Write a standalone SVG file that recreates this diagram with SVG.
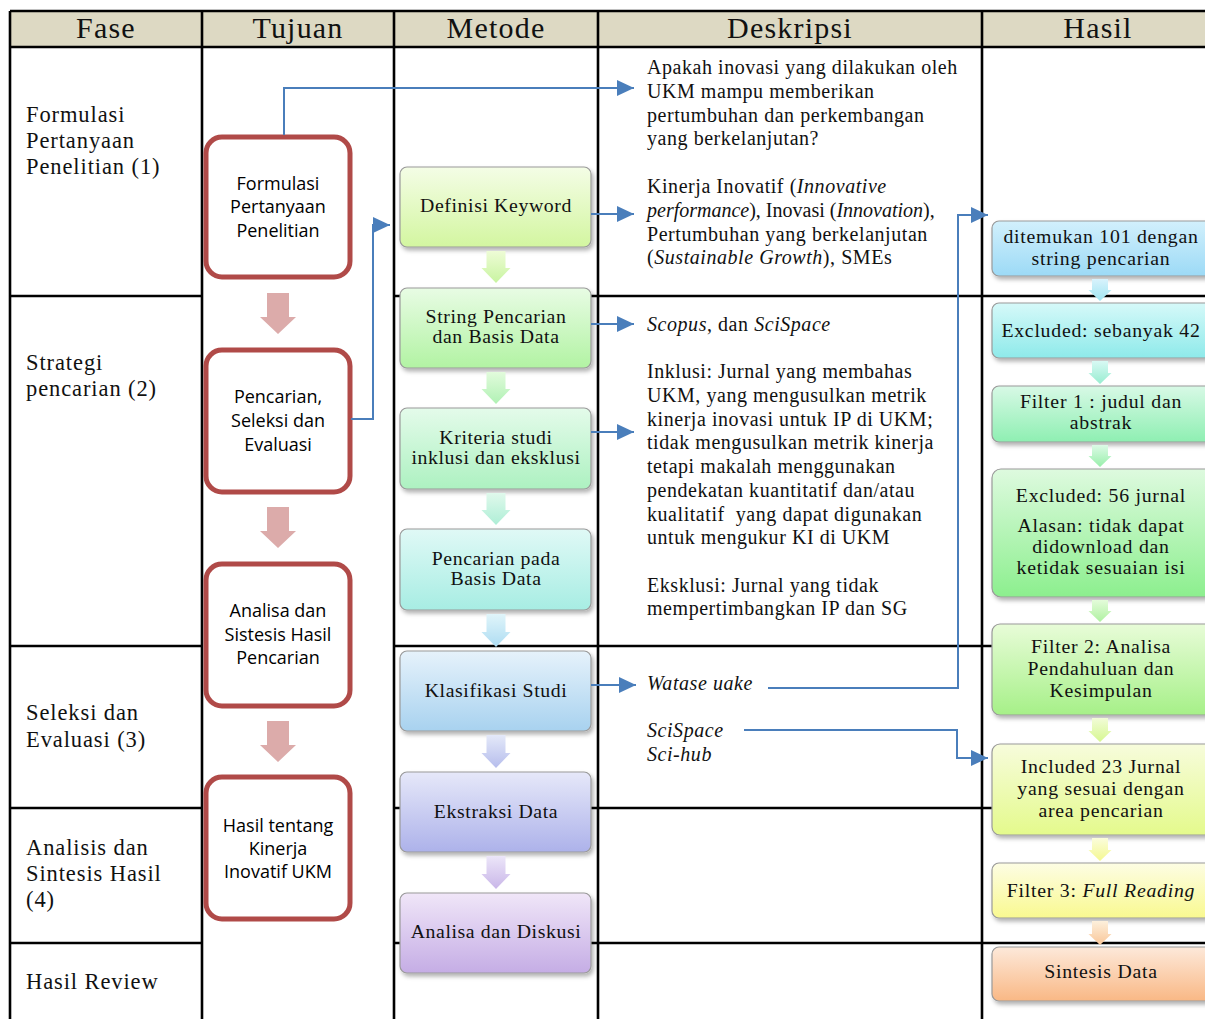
<svg xmlns="http://www.w3.org/2000/svg" width="1205" height="1019" viewBox="0 0 1205 1019">
<style>
.grid{stroke:#000;stroke-width:2.6;fill:none}
.hdr{font-family:"Liberation Serif",serif;font-size:30px;letter-spacing:1.2px;fill:#111;text-anchor:middle}
.fase{font-family:"Liberation Serif",serif;font-size:22.5px;letter-spacing:0.9px;fill:#111}
.tuj{fill:#fff;stroke:#b04a48;stroke-width:5}
.tujt{font-family:"Open Sans","Liberation Sans",sans-serif;font-size:18px;fill:#000;text-anchor:middle}
.pink{fill:#dcabaa}
.mbox{stroke:#9a9a9a;stroke-width:1.2}
.mt{font-family:"Liberation Serif",serif;font-size:19.8px;letter-spacing:0.6px;fill:#111;text-anchor:middle}
.ht{font-family:"Liberation Serif",serif;font-size:19.8px;letter-spacing:0.75px;fill:#111;text-anchor:middle}
.desc{font-family:"Liberation Serif",serif;font-size:20px;letter-spacing:0.55px;fill:#111}
.conn{stroke:#4a7ebb;stroke-width:2;fill:none}
.it{font-style:italic}
</style>
<defs>
<marker id="ah" markerUnits="userSpaceOnUse" markerWidth="17" markerHeight="16" viewBox="0 0 17 16" refX="17" refY="8" orient="auto">
<path d="M0,0 L17,8 L0,16 Z" fill="#4a7ebb"/>
</marker>
<filter id="sh" x="-10%" y="-10%" width="130%" height="140%">
<feDropShadow dx="2" dy="3" stdDeviation="2" flood-color="#000" flood-opacity="0.3"/>
</filter>
<linearGradient id="g1" x1="0" y1="0" x2="0" y2="1"><stop offset="0" stop-color="#f4fde6"/><stop offset="1" stop-color="#d3f6a0"/></linearGradient>
<linearGradient id="g2" x1="0" y1="0" x2="0" y2="1"><stop offset="0" stop-color="#e8fce4"/><stop offset="1" stop-color="#b2f3a3"/></linearGradient>
<linearGradient id="g3" x1="0" y1="0" x2="0" y2="1"><stop offset="0" stop-color="#e4fbea"/><stop offset="1" stop-color="#adf1c1"/></linearGradient>
<linearGradient id="g4" x1="0" y1="0" x2="0" y2="1"><stop offset="0" stop-color="#e0f9f6"/><stop offset="1" stop-color="#a7ede3"/></linearGradient>
<linearGradient id="g5" x1="0" y1="0" x2="0" y2="1"><stop offset="0" stop-color="#e6f2fb"/><stop offset="1" stop-color="#a8d2ef"/></linearGradient>
<linearGradient id="g6" x1="0" y1="0" x2="0" y2="1"><stop offset="0" stop-color="#e6e8f9"/><stop offset="1" stop-color="#adb2ea"/></linearGradient>
<linearGradient id="g7" x1="0" y1="0" x2="0" y2="1"><stop offset="0" stop-color="#f0e6f8"/><stop offset="1" stop-color="#c5ade5"/></linearGradient>
<linearGradient id="h1" x1="0" y1="0" x2="0" y2="1"><stop offset="0" stop-color="#d2f0fc"/><stop offset="1" stop-color="#9cdaf6"/></linearGradient>
<linearGradient id="h2" x1="0" y1="0" x2="0" y2="1"><stop offset="0" stop-color="#d6f9f9"/><stop offset="1" stop-color="#8eeaea"/></linearGradient>
<linearGradient id="h3" x1="0" y1="0" x2="0" y2="1"><stop offset="0" stop-color="#d8f9e6"/><stop offset="1" stop-color="#8eefb2"/></linearGradient>
<linearGradient id="h4" x1="0" y1="0" x2="0" y2="1"><stop offset="0" stop-color="#defadf"/><stop offset="1" stop-color="#8cef8e"/></linearGradient>
<linearGradient id="h5" x1="0" y1="0" x2="0" y2="1"><stop offset="0" stop-color="#e8fcd8"/><stop offset="1" stop-color="#a6f088"/></linearGradient>
<linearGradient id="h6" x1="0" y1="0" x2="0" y2="1"><stop offset="0" stop-color="#f7fcdc"/><stop offset="1" stop-color="#e4fa8c"/></linearGradient>
<linearGradient id="h7" x1="0" y1="0" x2="0" y2="1"><stop offset="0" stop-color="#fdfde4"/><stop offset="1" stop-color="#f9f990"/></linearGradient>
<linearGradient id="h8" x1="0" y1="0" x2="0" y2="1"><stop offset="0" stop-color="#fde9da"/><stop offset="1" stop-color="#f9b885"/></linearGradient>
<linearGradient id="a1" x1="0" y1="0" x2="0" y2="1"><stop offset="0" stop-color="#eefcd6"/><stop offset="1" stop-color="#c8f4a0"/></linearGradient>
<linearGradient id="a2" x1="0" y1="0" x2="0" y2="1"><stop offset="0" stop-color="#e2fbdc"/><stop offset="1" stop-color="#b0f1b4"/></linearGradient>
<linearGradient id="a3" x1="0" y1="0" x2="0" y2="1"><stop offset="0" stop-color="#e0f9ec"/><stop offset="1" stop-color="#aeeed6"/></linearGradient>
<linearGradient id="a4" x1="0" y1="0" x2="0" y2="1"><stop offset="0" stop-color="#e0f5fa"/><stop offset="1" stop-color="#aedcf2"/></linearGradient>
<linearGradient id="a5" x1="0" y1="0" x2="0" y2="1"><stop offset="0" stop-color="#e4e9f9"/><stop offset="1" stop-color="#b6bdec"/></linearGradient>
<linearGradient id="a6" x1="0" y1="0" x2="0" y2="1"><stop offset="0" stop-color="#ece6f9"/><stop offset="1" stop-color="#c9b6e8"/></linearGradient>
<linearGradient id="b1" x1="0" y1="0" x2="0" y2="1"><stop offset="0" stop-color="#d8f2fc"/><stop offset="1" stop-color="#a0e6f2"/></linearGradient>
<linearGradient id="b2" x1="0" y1="0" x2="0" y2="1"><stop offset="0" stop-color="#d8f9f4"/><stop offset="1" stop-color="#98edd0"/></linearGradient>
<linearGradient id="b3" x1="0" y1="0" x2="0" y2="1"><stop offset="0" stop-color="#dcfae6"/><stop offset="1" stop-color="#98efaa"/></linearGradient>
<linearGradient id="b4" x1="0" y1="0" x2="0" y2="1"><stop offset="0" stop-color="#e4fcda"/><stop offset="1" stop-color="#aef1a0"/></linearGradient>
<linearGradient id="b5" x1="0" y1="0" x2="0" y2="1"><stop offset="0" stop-color="#f2fcd8"/><stop offset="1" stop-color="#d6f790"/></linearGradient>
<linearGradient id="b6" x1="0" y1="0" x2="0" y2="1"><stop offset="0" stop-color="#fbfddc"/><stop offset="1" stop-color="#f4f890"/></linearGradient>
<linearGradient id="b7" x1="0" y1="0" x2="0" y2="1"><stop offset="0" stop-color="#fdf0dc"/><stop offset="1" stop-color="#f9c698"/></linearGradient>
</defs>

<g id="table">
<rect x="10" y="11" width="1200" height="36" fill="#ddd9c3"/>
<path class="grid" d="M10,11 H1210 M10,47 H1210 M10,11 V1019 M202,11 V1019 M394,11 V1019 M598,11 V1019 M982,11 V1019
M10,296 H202 M394,296 H1210 M10,646 H202 M394,646 H1210 M10,808 H202 M394,808 H1210 M10,943 H202 M394,943 H1210"/>
<text class="hdr" x="106" y="38">Fase</text>
<text class="hdr" x="298" y="38">Tujuan</text>
<text class="hdr" x="496" y="38">Metode</text>
<text class="hdr" x="790" y="38">Deskripsi</text>
<text class="hdr" x="1098" y="38">Hasil</text>
</g>

<g id="fase">
<text class="fase" x="26" y="122">Formulasi</text>
<text class="fase" x="26" y="148">Pertanyaan</text>
<text class="fase" x="26" y="174">Penelitian (1)</text>
<text class="fase" x="26" y="370">Strategi</text>
<text class="fase" x="26" y="396">pencarian (2)</text>
<text class="fase" x="26" y="720">Seleksi dan</text>
<text class="fase" x="26" y="747">Evaluasi (3)</text>
<text class="fase" x="26" y="855">Analisis dan</text>
<text class="fase" x="26" y="881">Sintesis Hasil</text>
<text class="fase" x="26" y="907">(4)</text>
<text class="fase" x="26" y="989">Hasil Review</text>
</g>

<g id="tujuan-1">
<rect class="tuj" x="206" y="137" width="144" height="140" rx="16"/>
<text class="tujt" x="278" y="190">Formulasi</text>
<text class="tujt" x="278" y="213">Pertanyaan</text>
<text class="tujt" x="278" y="237">Penelitian</text>
</g>
<g id="tujuan-2">
<rect class="tuj" x="206" y="350" width="144" height="142" rx="16"/>
<text class="tujt" x="278" y="403">Pencarian,</text>
<text class="tujt" x="278" y="427">Seleksi dan</text>
<text class="tujt" x="278" y="451">Evaluasi</text>
</g>
<g id="tujuan-3">
<rect class="tuj" x="206" y="564" width="144" height="142" rx="16"/>
<text class="tujt" x="278" y="617">Analisa dan</text>
<text class="tujt" x="278" y="641">Sistesis Hasil</text>
<text class="tujt" x="278" y="664">Pencarian</text>
</g>
<g id="tujuan-4">
<rect class="tuj" x="206" y="777" width="144" height="142" rx="16"/>
<text class="tujt" x="278" y="832">Hasil tentang</text>
<text class="tujt" x="278" y="855">Kinerja</text>
<text class="tujt" x="278" y="878">Inovatif UKM</text>
</g>
<g id="tujuan-arrows">
<path class="pink" d="M267,293 H289 V317 H296 L278,334 L260,317 H267 Z"/>
<path class="pink" d="M267,507 H289 V531 H296 L278,548 L260,531 H267 Z"/>
<path class="pink" d="M267,721 H289 V745 H296 L278,762 L260,745 H267 Z"/>
</g>

<g id="metode">
<g id="m1" filter="url(#sh)"><rect class="mbox" x="400" y="167" width="191" height="80" rx="7" fill="url(#g1)"/></g>
<text class="mt" x="496" y="212">Definisi Keyword</text>
<g id="m2" filter="url(#sh)"><rect class="mbox" x="400" y="288" width="191" height="80" rx="7" fill="url(#g2)"/></g>
<text class="mt" x="496" y="323">String Pencarian</text>
<text class="mt" x="496" y="343">dan Basis Data</text>
<g id="m3" filter="url(#sh)"><rect class="mbox" x="400" y="408" width="191" height="81" rx="7" fill="url(#g3)"/></g>
<text class="mt" x="496" y="444">Kriteria studi</text>
<text class="mt" x="496" y="464">inklusi dan eksklusi</text>
<g id="m4" filter="url(#sh)"><rect class="mbox" x="400" y="529" width="191" height="81" rx="7" fill="url(#g4)"/></g>
<text class="mt" x="496" y="565">Pencarian pada</text>
<text class="mt" x="496" y="585">Basis Data</text>
<g id="m5" filter="url(#sh)"><rect class="mbox" x="400" y="651" width="191" height="80" rx="7" fill="url(#g5)"/></g>
<text class="mt" x="496" y="697">Klasifikasi Studi</text>
<g id="m6" filter="url(#sh)"><rect class="mbox" x="400" y="772" width="191" height="80" rx="7" fill="url(#g6)"/></g>
<text class="mt" x="496" y="818">Ekstraksi Data</text>
<g id="m7" filter="url(#sh)"><rect class="mbox" x="400" y="893" width="191" height="80" rx="7" fill="url(#g7)"/></g>
<text class="mt" x="496" y="938">Analisa dan Diskusi</text>
</g>
<g id="metode-arrows">
<path fill="url(#a1)" d="M486.5,251 H505.5 V268 H510.5 L496,283 L481.5,268 H486.5 Z"/>
<path fill="url(#a2)" d="M486.5,372 H505.5 V389 H510.5 L496,404 L481.5,389 H486.5 Z"/>
<path fill="url(#a3)" d="M486.5,493 H505.5 V510 H510.5 L496,525 L481.5,510 H486.5 Z"/>
<path fill="url(#a4)" d="M486.5,614 H505.5 V632 H510.5 L496,647 L481.5,632 H486.5 Z"/>
<path fill="url(#a5)" d="M486.5,735 H505.5 V753 H510.5 L496,768 L481.5,753 H486.5 Z"/>
<path fill="url(#a6)" d="M486.5,856 H505.5 V874 H510.5 L496,889 L481.5,874 H486.5 Z"/>
</g>

<g id="deskripsi">
<text class="desc" x="647" y="74">Apakah inovasi yang dilakukan oleh</text>
<text class="desc" x="647" y="98">UKM mampu memberikan</text>
<text class="desc" x="647" y="122">pertumbuhan dan perkembangan</text>
<text class="desc" x="647" y="145">yang berkelanjutan?</text>
<text class="desc" x="647" y="193">Kinerja Inovatif (<tspan class="it">Innovative</tspan></text>
<text class="desc" x="647" y="217" style="letter-spacing:0px"><tspan class="it">performance</tspan>), Inovasi (<tspan class="it">Innovation</tspan>),</text>
<text class="desc" x="647" y="241">Pertumbuhan yang berkelanjutan</text>
<text class="desc" x="647" y="264">(<tspan class="it">Sustainable Growth</tspan>), SMEs</text>
<text class="desc" x="647" y="331"><tspan class="it">Scopus</tspan>, dan <tspan class="it">SciSpace</tspan></text>
<text class="desc" x="647" y="378">Inklusi: Jurnal yang membahas</text>
<text class="desc" x="647" y="402">UKM, yang mengusulkan metrik</text>
<text class="desc" x="647" y="426">kinerja inovasi untuk IP di UKM;</text>
<text class="desc" x="647" y="449">tidak mengusulkan metrik kinerja</text>
<text class="desc" x="647" y="473">tetapi makalah menggunakan</text>
<text class="desc" x="647" y="497">pendekatan kuantitatif dan/atau</text>
<text class="desc" x="647" y="521" xml:space="preserve">kualitatif  yang dapat digunakan</text>
<text class="desc" x="647" y="544">untuk mengukur KI di UKM</text>
<text class="desc" x="647" y="592">Eksklusi: Jurnal yang tidak</text>
<text class="desc" x="647" y="615">mempertimbangkan IP dan SG</text>
<text class="desc it" x="647" y="690">Watase uake</text>
<text class="desc it" x="647" y="737">SciSpace</text>
<text class="desc it" x="647" y="761">Sci-hub</text>
</g>

<g id="hasil">
<g filter="url(#sh)"><rect class="mbox" x="992" y="221" width="222" height="55" rx="7" fill="url(#h1)"/></g>
<text class="ht" x="1101" y="243">ditemukan 101 dengan</text>
<text class="ht" x="1101" y="265">string pencarian</text>
<g filter="url(#sh)"><rect class="mbox" x="992" y="303" width="222" height="55" rx="7" fill="url(#h2)"/></g>
<text class="ht" x="1101" y="337">Excluded: sebanyak 42</text>
<g filter="url(#sh)"><rect class="mbox" x="992" y="386" width="222" height="56" rx="7" fill="url(#h3)"/></g>
<text class="ht" x="1101" y="408">Filter 1 : judul dan</text>
<text class="ht" x="1101" y="429">abstrak</text>
<g filter="url(#sh)"><rect class="mbox" x="992" y="469" width="222" height="128" rx="9" fill="url(#h4)"/></g>
<text class="ht" x="1101" y="502">Excluded: 56 jurnal</text>
<text class="ht" x="1101" y="532">Alasan: tidak dapat</text>
<text class="ht" x="1101" y="553">didownload dan</text>
<text class="ht" x="1101" y="574">ketidak sesuaian isi</text>
<g filter="url(#sh)"><rect class="mbox" x="992" y="624" width="222" height="91" rx="8" fill="url(#h5)"/></g>
<text class="ht" x="1101" y="653">Filter 2: Analisa</text>
<text class="ht" x="1101" y="675">Pendahuluan dan</text>
<text class="ht" x="1101" y="697">Kesimpulan</text>
<g filter="url(#sh)"><rect class="mbox" x="992" y="744" width="222" height="91" rx="8" fill="url(#h6)"/></g>
<text class="ht" x="1101" y="773">Included 23 Jurnal</text>
<text class="ht" x="1101" y="795">yang sesuai dengan</text>
<text class="ht" x="1101" y="817">area pencarian</text>
<g filter="url(#sh)"><rect class="mbox" x="992" y="863" width="222" height="55" rx="7" fill="url(#h7)"/></g>
<text class="ht" x="1101" y="897">Filter 3: <tspan class="it">Full Reading</tspan></text>
<g filter="url(#sh)"><rect class="mbox" x="992" y="947" width="222" height="54" rx="7" fill="url(#h8)"/></g>
<text class="ht" x="1101" y="978">Sintesis Data</text>
</g>
<g id="hasil-arrows">
<path fill="url(#b1)" d="M1092,279 H1108 V290 H1111.5 L1100,301 L1088.5,290 H1092 Z"/>
<path fill="url(#b2)" d="M1092,361 H1108 V373 H1111.5 L1100,384 L1088.5,373 H1092 Z"/>
<path fill="url(#b3)" d="M1092,445 H1108 V456 H1111.5 L1100,467 L1088.5,456 H1092 Z"/>
<path fill="url(#b4)" d="M1092,600 H1108 V611 H1111.5 L1100,622 L1088.5,611 H1092 Z"/>
<path fill="url(#b5)" d="M1092,718 H1108 V731 H1111.5 L1100,742 L1088.5,731 H1092 Z"/>
<path fill="url(#b6)" d="M1092,838 H1108 V850 H1111.5 L1100,861 L1088.5,850 H1092 Z"/>
<path fill="url(#b7)" d="M1092,921 H1108 V934 H1111.5 L1100,945 L1088.5,934 H1092 Z"/>
</g>

<g id="connectors">
<path class="conn" marker-end="url(#ah)" d="M284,135 V88 H634"/>
<path class="conn" marker-end="url(#ah)" d="M351,419 H373 V225 H390"/>
<path class="conn" marker-end="url(#ah)" d="M591,214 H634"/>
<path class="conn" marker-end="url(#ah)" d="M591,324 H634"/>
<path class="conn" marker-end="url(#ah)" d="M591,432 H634"/>
<path class="conn" marker-end="url(#ah)" d="M591,685 H636"/>
<path class="conn" marker-end="url(#ah)" d="M768,688 H958 V215 H988"/>
<path class="conn" marker-end="url(#ah)" d="M744,730 H957 V758 H988"/>
</g>
</svg>
